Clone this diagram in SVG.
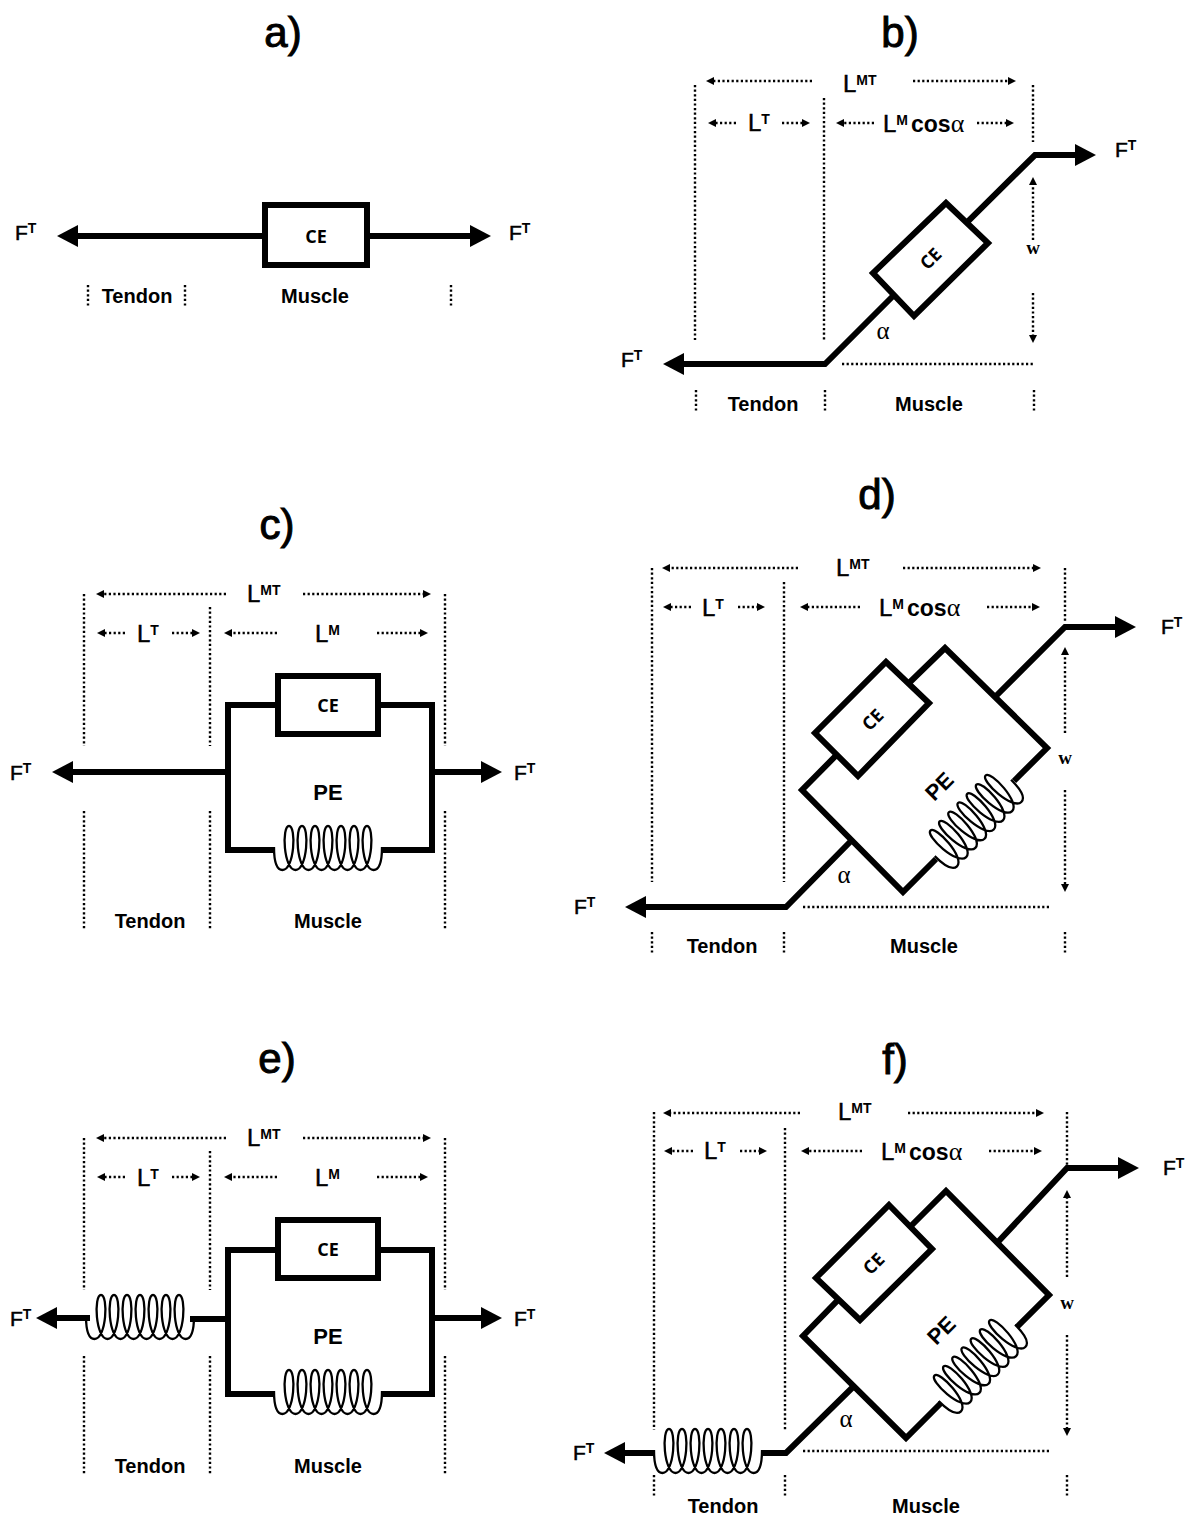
<svg xmlns="http://www.w3.org/2000/svg" xmlns:xlink="http://www.w3.org/1999/xlink" width="1192" height="1517" viewBox="0 0 1192 1517">
<style>
text{font-family:"Liberation Sans",Arial,sans-serif;font-weight:bold;fill:#000}
.title{font-size:42px;text-anchor:middle;font-weight:normal;stroke:#000;stroke-width:1}
.f{font-size:21px;font-weight:normal;stroke:#000;stroke-width:.5}
.l{font-size:24px;font-weight:normal;stroke:#000;stroke-width:.5}
.sup{font-size:14px;font-weight:bold;stroke:none}
.cos{font-size:23px;font-weight:bold;stroke:none}
.name{font-size:20px;text-anchor:middle}
.ce{font-family:"Open Sans",sans-serif;font-size:18px;text-anchor:middle}
.pe{font-size:22px;text-anchor:middle}
.g{font-family:"Liberation Serif",serif;font-weight:normal;font-size:26px;stroke:none}
.a{font-size:25px;text-anchor:middle}
.w{font-family:"Liberation Serif",serif;font-size:19px;text-anchor:middle}
.thick{fill:none;stroke:#000;stroke-width:6;stroke-linejoin:miter}
.arrow{marker-end:url(#big)}
.box{fill:#fff;stroke:#000;stroke-width:6}
.dot{fill:none;stroke:#000;stroke-width:2.4;stroke-dasharray:2.2 2.4}
.dim{marker-end:url(#small)}
.coil{fill:none;stroke:#000;stroke-width:2.3}
</style>
<defs>
<marker id="big" markerUnits="userSpaceOnUse" markerWidth="22" markerHeight="22" refX="0" refY="11" orient="auto"><path d="M0,0L21,11L0,22Z"/></marker>
<marker id="small" markerUnits="userSpaceOnUse" markerWidth="9" markerHeight="10" refX="1" refY="5" orient="auto"><path d="M0,1L8,5L0,9Z"/></marker>
<path id="spring" d="M-54,-3C-54,10 -52,20 -45.5,20C-33.5,20 -31.5,-24 -39,-24C-46.5,-24 -44.5,20 -32.5,20C-20.5,20 -18.5,-24 -26,-24C-33.5,-24 -31.5,20 -19.5,20C-7.5,20 -5.5,-24 -13,-24C-20.5,-24 -18.5,20 -6.5,20C5.5,20 7.5,-24 0,-24C-7.5,-24 -5.5,20 6.5,20C18.5,20 20.5,-24 13,-24C5.5,-24 7.5,20 19.5,20C31.5,20 33.5,-24 26,-24C18.5,-24 20.5,20 32.5,20C44.5,20 46.5,-24 39,-24C31.5,-24 33.5,20 45.5,20C52,20 54,10 54,-3"/>
</defs>
<rect width="1192" height="1517" fill="#fff"/>
<g id="connectors">
<!-- a -->
<path class="thick arrow" d="M262,236H78"/><path class="thick arrow" d="M370,236H470"/>
<path class="dot" d="M88,285V308M185,285V308M451,285V308"/>
<!-- b -->
<path class="thick arrow" d="M930,259L825,364H684"/><path class="thick arrow" d="M930,259L1035,155H1075"/>
<path class="dot" d="M695,85V340M824,98V340M1033,85V142M842,364H1033M696,390V412M825,390V412M1034,390V412"/>
<path class="dot dim" d="M812,81H713"/><path class="dot dim" d="M913,81H1009"/>
<path class="dot dim" d="M736,123H715"/><path class="dot dim" d="M782,123H803"/><path class="dot dim" d="M874,123H843"/><path class="dot dim" d="M977,123H1007"/>
<path class="dot dim" d="M1033,240V184"/><path class="dot dim" d="M1033,293V336"/>
<!-- c -->
<path class="thick" d="M278,705H228V850H274M382,850H432V705H378"/>
<path class="thick arrow" d="M228,772H73"/><path class="thick arrow" d="M432,772H481"/>
<path class="dot" d="M84,594V746M210,607V746M445,594V746M84,811V930M210,811V930M445,811V930"/>
<path class="dot dim" d="M226,594H103"/><path class="dot dim" d="M303,594H424"/>
<path class="dot dim" d="M125,633H104"/><path class="dot dim" d="M172,633H193"/><path class="dot dim" d="M277,633H231"/><path class="dot dim" d="M377,633H421"/>
<!-- d -->
<path class="thick arrow" d="M850,842L786,907H646"/><path class="thick arrow" d="M995,697L1065,627H1115"/>
<path class="thick" d="M872,719L802,790L903,892L936,859M1014,781L1047,748L945,648L872,719"/>
<path class="dot" d="M652,568V882M784,582V882M1065,568V622M803,907H1050M652,932V955M784,932V955M1065,932V955"/>
<path class="dot dim" d="M798,568H669"/><path class="dot dim" d="M903,568H1034"/>
<path class="dot dim" d="M691,607H670"/><path class="dot dim" d="M738,607H758"/><path class="dot dim" d="M860,607H807"/><path class="dot dim" d="M987,607H1033"/>
<path class="dot dim" d="M1065,733V654"/><path class="dot dim" d="M1065,790V885"/>
<!-- e -->
<path class="thick" d="M278,1250H228V1394H274M382,1394H432V1250H378"/>
<path class="thick arrow" d="M90,1318H57"/><path class="thick" d="M190,1319H228"/><path class="thick arrow" d="M432,1318H481"/>
<path class="dot" d="M84,1138V1290M210,1151V1290M445,1138V1290M84,1356V1475M210,1356V1475M445,1356V1475"/>
<path class="dot dim" d="M226,1138H103"/><path class="dot dim" d="M303,1138H424"/>
<path class="dot dim" d="M125,1177H104"/><path class="dot dim" d="M172,1177H193"/><path class="dot dim" d="M277,1177H231"/><path class="dot dim" d="M377,1177H421"/>
<!-- f -->
<path class="thick" d="M853,1387L786,1453H762"/><path class="thick arrow" d="M654,1453H625"/><path class="thick arrow" d="M997,1243L1067,1168H1118"/>
<path class="thick" d="M874,1263L803,1336L906,1438L941,1403M1017,1327L1049,1295L946,1191L874,1263"/>
<path class="dot" d="M654,1112V1430M785,1128V1430M1067,1112V1165M803,1451H1050M654,1475V1498M785,1475V1498M1067,1475V1498"/>
<path class="dot dim" d="M800,1113H670"/><path class="dot dim" d="M908,1113H1037"/>
<path class="dot dim" d="M693,1151H671"/><path class="dot dim" d="M740,1151H760"/><path class="dot dim" d="M862,1151H808"/><path class="dot dim" d="M989,1151H1035"/>
<path class="dot dim" d="M1067,1277V1197"/><path class="dot dim" d="M1067,1335V1429"/>
</g>
<g id="panel-a">
<text class="title" x="283" y="47">a)</text>
<g id="a-ce"><rect class="box" x="265" y="205" width="102" height="60"/><text class="ce" x="316" y="243">CE</text></g>
<text class="f" x="15" y="240">F<tspan class="sup" dy="-7">T</tspan></text>
<text class="f" x="509" y="240">F<tspan class="sup" dy="-7">T</tspan></text>
<text class="name" x="137" y="303">Tendon</text><text class="name" x="315" y="303">Muscle</text>
</g>
<g id="panel-b">
<text class="title" x="900" y="47">b)</text>
<g id="b-ce"><polygon class="box" points="946,203 988,243 914,316 873,273"/><text class="ce" transform="translate(931,259) rotate(-45)" x="0" y="6">CE</text></g>
<text class="l" x="843" y="92">L<tspan class="sup" dy="-7">MT</tspan></text>
<text class="l" x="748" y="131">L<tspan class="sup" dy="-7">T</tspan></text>
<text class="l" x="883" y="132">L<tspan class="sup" dy="-7">M</tspan><tspan class="cos" dy="7" dx="3">cos</tspan><tspan class="g">α</tspan></text>
<text class="f" x="1115" y="157">F<tspan class="sup" dy="-7">T</tspan></text>
<text class="f" x="621" y="367">F<tspan class="sup" dy="-7">T</tspan></text>
<text class="g a" x="883" y="339">α</text><text class="w" x="1033" y="254">w</text>
<text class="name" x="763" y="411">Tendon</text><text class="name" x="929" y="411">Muscle</text>
</g>
<g id="panel-c">
<text class="title" x="277" y="539">c)</text>
<g id="c-ce"><rect class="box" x="278" y="676" width="100" height="58"/><text class="ce" x="328" y="712">CE</text></g>
<g id="c-pe"><use class="coil" xlink:href="#spring" href="#spring" transform="translate(328,850)"/><text class="pe" x="328" y="800">PE</text></g>
<text class="l" x="247" y="602">L<tspan class="sup" dy="-7">MT</tspan></text>
<text class="l" x="137" y="642">L<tspan class="sup" dy="-7">T</tspan></text>
<text class="l" x="315" y="642">L<tspan class="sup" dy="-7">M</tspan></text>
<text class="f" x="10" y="780">F<tspan class="sup" dy="-7">T</tspan></text>
<text class="f" x="514" y="780">F<tspan class="sup" dy="-7">T</tspan></text>
<text class="name" x="150" y="928">Tendon</text><text class="name" x="328" y="928">Muscle</text>
</g>
<g id="panel-d">
<text class="title" x="877" y="509">d)</text>
<g id="d-ce"><polygon class="box" points="886,662 929,703 858,776 815,733"/><text class="ce" transform="translate(873,720) rotate(-45)" x="0" y="6">CE</text></g>
<g id="d-pe"><use class="coil" xlink:href="#spring" href="#spring" transform="translate(975,820) rotate(-45)"/><text class="pe" transform="translate(939,786) rotate(-45)" x="0" y="8">PE</text></g>
<text class="l" x="836" y="576">L<tspan class="sup" dy="-7">MT</tspan></text>
<text class="l" x="702" y="616">L<tspan class="sup" dy="-7">T</tspan></text>
<text class="l" x="879" y="616">L<tspan class="sup" dy="-7">M</tspan><tspan class="cos" dy="7" dx="3">cos</tspan><tspan class="g">α</tspan></text>
<text class="f" x="1161" y="634">F<tspan class="sup" dy="-7">T</tspan></text>
<text class="f" x="574" y="914">F<tspan class="sup" dy="-7">T</tspan></text>
<text class="g a" x="844" y="883">α</text><text class="w" x="1065" y="764">w</text>
<text class="name" x="722" y="953">Tendon</text><text class="name" x="924" y="953">Muscle</text>
</g>
<g id="panel-e">
<text class="title" x="277" y="1073">e)</text>
<g id="e-ce"><rect class="box" x="278" y="1220" width="100" height="58"/><text class="ce" x="328" y="1256">CE</text></g>
<g id="e-pe"><use class="coil" xlink:href="#spring" href="#spring" transform="translate(328,1394)"/><text class="pe" x="328" y="1344">PE</text></g>
<g id="e-tendon"><use class="coil" xlink:href="#spring" href="#spring" transform="translate(140,1319)"/></g>
<text class="l" x="247" y="1146">L<tspan class="sup" dy="-7">MT</tspan></text>
<text class="l" x="137" y="1186">L<tspan class="sup" dy="-7">T</tspan></text>
<text class="l" x="315" y="1186">L<tspan class="sup" dy="-7">M</tspan></text>
<text class="f" x="10" y="1326">F<tspan class="sup" dy="-7">T</tspan></text>
<text class="f" x="514" y="1326">F<tspan class="sup" dy="-7">T</tspan></text>
<text class="name" x="150" y="1473">Tendon</text><text class="name" x="328" y="1473">Muscle</text>
</g>
<g id="panel-f">
<text class="title" x="895" y="1074">f)</text>
<g id="f-ce"><polygon class="box" points="889,1205 932,1249 860,1320 816,1278"/><text class="ce" transform="translate(874,1264) rotate(-45)" x="0" y="6">CE</text></g>
<g id="f-pe"><use class="coil" xlink:href="#spring" href="#spring" transform="translate(979,1365) rotate(-45)"/><text class="pe" transform="translate(941,1330) rotate(-45)" x="0" y="8">PE</text></g>
<g id="f-tendon"><use class="coil" xlink:href="#spring" href="#spring" transform="translate(708,1453)"/></g>
<text class="l" x="838" y="1120">L<tspan class="sup" dy="-7">MT</tspan></text>
<text class="l" x="704" y="1159">L<tspan class="sup" dy="-7">T</tspan></text>
<text class="l" x="881" y="1160">L<tspan class="sup" dy="-7">M</tspan><tspan class="cos" dy="7" dx="3">cos</tspan><tspan class="g">α</tspan></text>
<text class="f" x="1163" y="1175">F<tspan class="sup" dy="-7">T</tspan></text>
<text class="f" x="573" y="1460">F<tspan class="sup" dy="-7">T</tspan></text>
<text class="g a" x="846" y="1427">α</text><text class="w" x="1067" y="1309">w</text>
<text class="name" x="723" y="1513">Tendon</text><text class="name" x="926" y="1513">Muscle</text>
</g>
</svg>
